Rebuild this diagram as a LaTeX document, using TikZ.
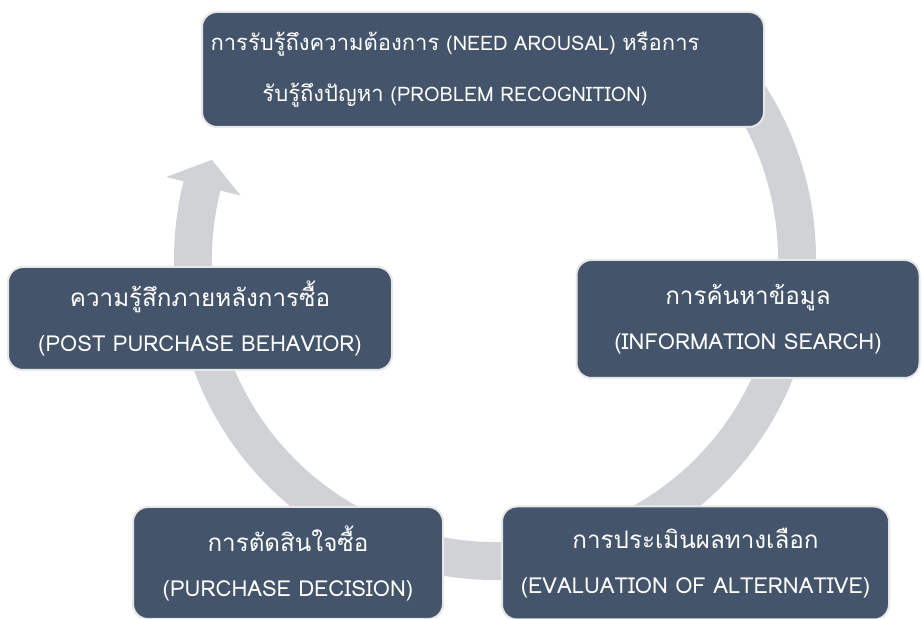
\documentclass[tikz,border=0pt]{standalone}
\usepackage{fontspec}
\newfontfamily\thaifont[Script=Thai]{Loma}
\usetikzlibrary{positioning}
\definecolor{slate}{RGB}{68,84,106}
\definecolor{ringgray}{RGB}{208,210,214}
\definecolor{rimgray}{RGB}{231,231,231}
\newcommand\thaiword[1]{{\fontsize{1.1\dimexpr\fontdimen6\font\relax}{0}\selectfont #1}}

\begin{document}
\begin{tikzpicture}[
    x=1pt, y=1pt,
    stage/.style={rectangle, draw=rimgray, line width=2pt, rounded corners=15pt, fill=slate, text=white, align=center, font=\thaifont\fontsize{22}{45}\selectfont, inner sep=0pt},
    ring/.style={fill=ringgray}
]
\useasboundingbox (0,0) rectangle (922,619);

% Cycle arrow
\fill[ring, shift={(495,360)}] (45:321) arc[start angle=45, end angle=-194, radius=321]
    -- (-194:339) -- (-199.3:300) -- (-194:262) -- (-194:283)
    arc[start angle=-194, end angle=45, radius=283] -- cycle;

% Stages
\node[stage, minimum width=562pt, minimum height=115pt, font=\thaifont\fontsize{20}{51}\selectfont] (need) at (483,549.5) {\hspace*{-56pt}\thaiword{การรับรู้ถึงความต้องการ} (NEED AROUSAL) \thaiword{หรือการ}\\\hspace*{-56pt}\thaiword{รับรู้ถึงปัญหา} (PROBLEM RECOGNITION)};
\node[stage, minimum width=343pt, minimum height=118pt, below=131pt of need, xshift=265pt] (search) {\thaiword{การค้นหาข้อมูล}\\(INFORMATION SEARCH)};
\node[stage, minimum width=384pt, minimum height=103pt, below=138pt of need, xshift=-283pt] (post) {\thaiword{ความรู้สึกภายหลังการซื้อ}\\(POST PURCHASE BEHAVIOR)};
\node[stage, minimum width=310pt, minimum height=112pt, below=135pt of post, xshift=88pt] (decision) {\thaiword{การตัดสินใจซื้อ}\\(PURCHASE DECISION)};
\node[stage, minimum width=387pt, minimum height=113pt, right=57pt of decision] (evaluation) {\thaiword{การประเมินผลทางเลือก}\\(EVALUATION OF ALTERNATIVE)};

\end{tikzpicture}
\end{document}
